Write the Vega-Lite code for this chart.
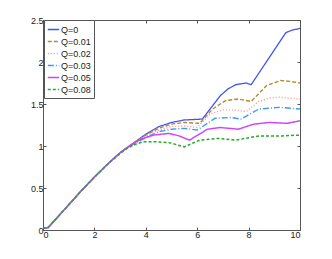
{
  "$schema": "https://vega.github.io/schema/vega-lite/v6.json",
  "autosize": {"type": "none"},
  "width": 257,
  "height": 210,
  "padding": {"left": 43, "top": 20, "right": 32, "bottom": 29},
  "background": "white",
  "config": {
    "font": "Liberation Sans",
    "view": {"stroke": "#555", "strokeWidth": 1},
    "axis": {"grid": false, "domain": false, "tickSize": -3, "tickColor": "#555", "labelFontSize": 9, "labelColor": "#222", "labelPadding": 3, "title": null}
  },
  "datasets": {
    "d": [
      {"x":0,"y":0.02,"Q":"Q=0"},{"x":0.2,"y":0.03,"Q":"Q=0"},{"x":0.5,"y":0.13,"Q":"Q=0"},{"x":1,"y":0.3,"Q":"Q=0"},{"x":1.5,"y":0.47,"Q":"Q=0"},{"x":2,"y":0.63,"Q":"Q=0"},{"x":2.5,"y":0.78,"Q":"Q=0"},{"x":3,"y":0.92,"Q":"Q=0"},{"x":3.5,"y":1.03,"Q":"Q=0"},{"x":4,"y":1.14,"Q":"Q=0"},{"x":4.5,"y":1.23,"Q":"Q=0"},{"x":5,"y":1.28,"Q":"Q=0"},{"x":5.5,"y":1.31,"Q":"Q=0"},{"x":6.2,"y":1.32,"Q":"Q=0"},{"x":6.9,"y":1.6,"Q":"Q=0"},{"x":7.2,"y":1.68,"Q":"Q=0"},{"x":7.5,"y":1.73,"Q":"Q=0"},{"x":7.9,"y":1.75,"Q":"Q=0"},{"x":8.1,"y":1.73,"Q":"Q=0"},{"x":9.45,"y":2.35,"Q":"Q=0"},{"x":9.7,"y":2.38,"Q":"Q=0"},{"x":10,"y":2.4,"Q":"Q=0"},
      {"x":0,"y":0.02,"Q":"Q=0.01"},{"x":0.2,"y":0.03,"Q":"Q=0.01"},{"x":0.5,"y":0.13,"Q":"Q=0.01"},{"x":1,"y":0.3,"Q":"Q=0.01"},{"x":1.5,"y":0.47,"Q":"Q=0.01"},{"x":2,"y":0.63,"Q":"Q=0.01"},{"x":2.5,"y":0.78,"Q":"Q=0.01"},{"x":3,"y":0.92,"Q":"Q=0.01"},{"x":3.5,"y":1.03,"Q":"Q=0.01"},{"x":4,"y":1.13,"Q":"Q=0.01"},{"x":4.5,"y":1.21,"Q":"Q=0.01"},{"x":5,"y":1.26,"Q":"Q=0.01"},{"x":5.5,"y":1.28,"Q":"Q=0.01"},{"x":6.1,"y":1.27,"Q":"Q=0.01"},{"x":6.6,"y":1.44,"Q":"Q=0.01"},{"x":7.1,"y":1.54,"Q":"Q=0.01"},{"x":7.6,"y":1.56,"Q":"Q=0.01"},{"x":8.1,"y":1.53,"Q":"Q=0.01"},{"x":8.7,"y":1.72,"Q":"Q=0.01"},{"x":9.25,"y":1.78,"Q":"Q=0.01"},{"x":9.6,"y":1.77,"Q":"Q=0.01"},{"x":10,"y":1.75,"Q":"Q=0.01"},
      {"x":0,"y":0.02,"Q":"Q=0.02"},{"x":0.2,"y":0.03,"Q":"Q=0.02"},{"x":0.5,"y":0.13,"Q":"Q=0.02"},{"x":1,"y":0.3,"Q":"Q=0.02"},{"x":1.5,"y":0.47,"Q":"Q=0.02"},{"x":2,"y":0.63,"Q":"Q=0.02"},{"x":2.5,"y":0.78,"Q":"Q=0.02"},{"x":3,"y":0.92,"Q":"Q=0.02"},{"x":3.5,"y":1.02,"Q":"Q=0.02"},{"x":4,"y":1.12,"Q":"Q=0.02"},{"x":4.5,"y":1.19,"Q":"Q=0.02"},{"x":5,"y":1.23,"Q":"Q=0.02"},{"x":5.5,"y":1.24,"Q":"Q=0.02"},{"x":6.0,"y":1.22,"Q":"Q=0.02"},{"x":6.5,"y":1.38,"Q":"Q=0.02"},{"x":7.0,"y":1.43,"Q":"Q=0.02"},{"x":7.4,"y":1.43,"Q":"Q=0.02"},{"x":7.9,"y":1.41,"Q":"Q=0.02"},{"x":8.4,"y":1.53,"Q":"Q=0.02"},{"x":8.8,"y":1.57,"Q":"Q=0.02"},{"x":9.2,"y":1.58,"Q":"Q=0.02"},{"x":10,"y":1.56,"Q":"Q=0.02"},
      {"x":0,"y":0.02,"Q":"Q=0.03"},{"x":0.2,"y":0.03,"Q":"Q=0.03"},{"x":0.5,"y":0.13,"Q":"Q=0.03"},{"x":1,"y":0.3,"Q":"Q=0.03"},{"x":1.5,"y":0.47,"Q":"Q=0.03"},{"x":2,"y":0.63,"Q":"Q=0.03"},{"x":2.5,"y":0.78,"Q":"Q=0.03"},{"x":3,"y":0.92,"Q":"Q=0.03"},{"x":3.5,"y":1.02,"Q":"Q=0.03"},{"x":4,"y":1.1,"Q":"Q=0.03"},{"x":4.5,"y":1.17,"Q":"Q=0.03"},{"x":5,"y":1.2,"Q":"Q=0.03"},{"x":5.5,"y":1.21,"Q":"Q=0.03"},{"x":6.0,"y":1.19,"Q":"Q=0.03"},{"x":6.7,"y":1.33,"Q":"Q=0.03"},{"x":7.3,"y":1.34,"Q":"Q=0.03"},{"x":7.7,"y":1.32,"Q":"Q=0.03"},{"x":8.4,"y":1.44,"Q":"Q=0.03"},{"x":9.2,"y":1.46,"Q":"Q=0.03"},{"x":10,"y":1.44,"Q":"Q=0.03"},
      {"x":0,"y":0.02,"Q":"Q=0.05"},{"x":0.2,"y":0.03,"Q":"Q=0.05"},{"x":0.5,"y":0.13,"Q":"Q=0.05"},{"x":1,"y":0.3,"Q":"Q=0.05"},{"x":1.5,"y":0.47,"Q":"Q=0.05"},{"x":2,"y":0.63,"Q":"Q=0.05"},{"x":2.5,"y":0.78,"Q":"Q=0.05"},{"x":3,"y":0.92,"Q":"Q=0.05"},{"x":3.4,"y":1.01,"Q":"Q=0.05"},{"x":3.8,"y":1.08,"Q":"Q=0.05"},{"x":4.3,"y":1.13,"Q":"Q=0.05"},{"x":4.9,"y":1.15,"Q":"Q=0.05"},{"x":5.3,"y":1.12,"Q":"Q=0.05"},{"x":5.7,"y":1.07,"Q":"Q=0.05"},{"x":6.4,"y":1.2,"Q":"Q=0.05"},{"x":6.9,"y":1.22,"Q":"Q=0.05"},{"x":7.6,"y":1.2,"Q":"Q=0.05"},{"x":8.2,"y":1.26,"Q":"Q=0.05"},{"x":8.8,"y":1.28,"Q":"Q=0.05"},{"x":9.5,"y":1.27,"Q":"Q=0.05"},{"x":10,"y":1.3,"Q":"Q=0.05"},
      {"x":0,"y":0.02,"Q":"Q=0.08"},{"x":0.2,"y":0.03,"Q":"Q=0.08"},{"x":0.5,"y":0.13,"Q":"Q=0.08"},{"x":1,"y":0.3,"Q":"Q=0.08"},{"x":1.5,"y":0.47,"Q":"Q=0.08"},{"x":2,"y":0.63,"Q":"Q=0.08"},{"x":2.5,"y":0.78,"Q":"Q=0.08"},{"x":3,"y":0.91,"Q":"Q=0.08"},{"x":3.3,"y":0.98,"Q":"Q=0.08"},{"x":3.6,"y":1.02,"Q":"Q=0.08"},{"x":3.9,"y":1.05,"Q":"Q=0.08"},{"x":4.4,"y":1.05,"Q":"Q=0.08"},{"x":4.9,"y":1.04,"Q":"Q=0.08"},{"x":5.5,"y":0.99,"Q":"Q=0.08"},{"x":6.1,"y":1.07,"Q":"Q=0.08"},{"x":6.8,"y":1.09,"Q":"Q=0.08"},{"x":7.5,"y":1.07,"Q":"Q=0.08"},{"x":8.4,"y":1.12,"Q":"Q=0.08"},{"x":9.3,"y":1.12,"Q":"Q=0.08"},{"x":10,"y":1.13,"Q":"Q=0.08"}
    ]
  },
  "layer": [
    {
      "data": {"name": "d"},
      "mark": {"type": "line", "opacity": 0},
      "encoding": {
        "x": {"field": "x", "type": "quantitative", "scale": {"domain": [0, 10], "nice": false}, "axis": {"orient": "top", "labels": false, "values": [0,2,4,6,8,10]}},
        "y": {"field": "y", "type": "quantitative", "scale": {"domain": [0, 2.5], "nice": false}, "axis": {"orient": "right", "labels": false, "values": [0,0.5,1,1.5,2,2.5]}},
        "detail": {"field": "Q"}
      }
    },
    {
      "data": {"name": "d"},
      "mark": {"type": "line", "strokeCap": "butt"},
      "encoding": {
        "x": {"field": "x", "type": "quantitative", "scale": {"domain": [0, 10], "nice": false}, "axis": {"orient": "bottom", "values": [0,2,4,6,8,10]}},
        "y": {"field": "y", "type": "quantitative", "scale": {"domain": [0, 2.5], "nice": false}, "axis": {"orient": "left", "values": [0,0.5,1,1.5,2,2.5], "format": "~g"}},
        "color": {"field": "Q", "type": "nominal", "title": null,
          "scale": {"domain": ["Q=0","Q=0.01","Q=0.02","Q=0.03","Q=0.05","Q=0.08"], "range": ["#3f55f2","#b8862e","#ff8f8f","#3a9cf5","#cc44ff","#25ad25"]},
          "legend": {"orient": "none", "legendX": 1, "legendY": 0, "symbolType": "stroke", "symbolSize": 130, "labelFontSize": 9, "labelColor": "#222", "rowPadding": 0, "padding": 3, "strokeColor": "#555", "fillColor": "white", "labelOffset": 1, "symbolStrokeWidth": 1.5, "cornerRadius": 0}},
        "strokeDash": {"field": "Q", "type": "nominal", "title": null,
          "scale": {"domain": ["Q=0","Q=0.01","Q=0.02","Q=0.03","Q=0.05","Q=0.08"], "range": [[1,0],[4,2],[1,2],[6,2,1,2],[1,0],[3,2]]}},
        "strokeWidth": {"field": "Q", "type": "nominal", "title": null,
          "scale": {"domain": ["Q=0","Q=0.01","Q=0.02","Q=0.03","Q=0.05","Q=0.08"], "range": [1.3,1.5,1.3,1.3,2.5,2.2]}}
      }
    }
  ],
  "resolve": {"scale": {"x": "independent", "y": "independent"}, "axis": {"x": "independent", "y": "independent"}}
}
